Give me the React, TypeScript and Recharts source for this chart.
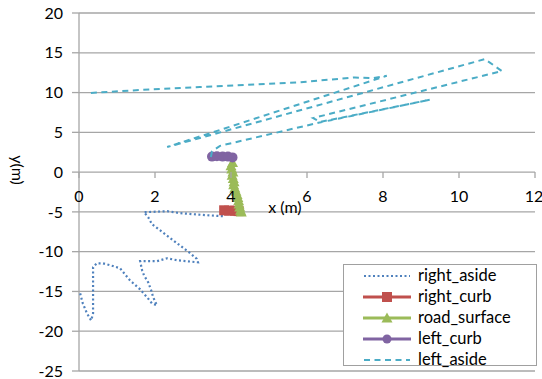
import React from 'react';
import { ScatterChart, Scatter, XAxis, YAxis, CartesianGrid, ReferenceDot } from 'recharts';

const xTicks = [0, 2, 4, 6, 8, 10, 12];
const yTicks = [-25, -20, -15, -10, -5, 0, 5, 10, 15, 20];

const rightAside: [number, number][] = [
  [0.03, -15.24], [0.1, -16.5], [0.21, -17.76], [0.32, -18.64], [0.37, -17.76], [0.37, -14.86],
  [0.37, -11.96], [0.47, -11.46], [0.63, -11.46], [0.89, -11.8], [1.08, -12.09], [1.34, -13.6],
  [1.61, -14.74], [1.82, -15.9], [1.92, -16.5], [2.05, -16.75], [1.95, -15.7], [1.9, -14.86],
  [1.82, -13.85], [1.71, -12.97], [1.66, -12.34], [1.61, -11.2], [2.05, -11.2], [2.32, -10.83],
  [2.58, -11.08], [2.84, -11.2], [3.13, -11.34], [3.1, -10.9], [2.9, -10.1], [2.58, -8.94],
  [2.13, -7.3], [1.92, -6.55], [1.82, -5.67], [1.71, -5.04], [2.32, -4.91], [2.66, -5.16],
  [3.0, -5.29], [3.37, -5.42], [3.79, -5.54],
];

const rightCurb: [number, number][] = [
  [3.82, -4.8], [3.95, -4.85], [4.1, -4.85], [4.2, -4.9],
];

const roadSurface: [number, number][] = [
  [4.04, 1.2], [4.0, 0.8], [4.02, 0.4], [4.05, 0.0], [4.03, -0.4], [4.06, -0.8], [4.08, -1.2],
  [4.07, -1.6], [4.1, -2.0], [4.13, -2.4], [4.16, -2.8], [4.18, -3.2], [4.2, -3.6], [4.21, -4.0],
  [4.23, -4.4], [4.25, -4.8], [4.27, -5.0],
];

const leftCurb: [number, number][] = [
  [3.5, 1.95], [3.63, 2.0], [3.78, 1.95], [3.92, 1.95], [4.04, 1.85],
];

const leftAside: [number, number][] = [
  [3.47, 1.9], [3.5, 2.6], [3.71, 3.3], [6.3, 6.2], [9.24, 9.1], [6.34, 6.3], [6.16, 6.8],
  [11.13, 12.7], [10.68, 14.2], [2.32, 3.15], [8.1, 12.1], [7.71, 11.8], [7.26, 11.9],
  [5.82, 11.3], [3.18, 10.7], [1.87, 10.4], [0.82, 10.1], [0.29, 9.95],
];

const seriesNames = ['right_aside', 'right_curb', 'road_surface', 'left_curb', 'left_aside'];
const colors = ['#4F81BD', '#C0504D', '#9BBB59', '#8064A2', '#4BACC6'];

const toPts = (a: [number, number][]) => a.map(([x, y]) => ({ x, y }));

const FONT = 'Lato, "Open Sans", sans-serif';
const GRID = '#A6A6A6';
const FS = 16;

const NoShape = () => <g />;
const SquareShape = (p: any) => <rect x={p.cx - 5} y={p.cy - 5} width={10} height={10} fill={colors[1]} />;
const TriShape = (p: any) => (
  <polygon points={`${p.cx},${p.cy - 5.5} ${p.cx + 5.5},${p.cy + 4.5} ${p.cx - 5.5},${p.cy + 4.5}`} fill={colors[2]} />
);
const CircShape = (p: any) => <circle cx={p.cx} cy={p.cy} r={5} fill={colors[3]} />;

const LegendSymbol = ({ i }: { i: number }) => {
  const c = colors[i];
  return (
    <svg width={48} height={12} style={{ display: 'block' }}>
      {i === 0 && <line x1={1} y1={6} x2={47} y2={6} stroke={c} strokeWidth={2} strokeDasharray="2 2.5" />}
      {i === 4 && <line x1={1} y1={6} x2={47} y2={6} stroke={c} strokeWidth={2} strokeDasharray="6 4.5" />}
      {(i === 1 || i === 2 || i === 3) && <line x1={0} y1={6} x2={48} y2={6} stroke={c} strokeWidth={3} />}
      {i === 1 && <rect x={19} y={1} width={10} height={10} fill={c} />}
      {i === 2 && <polygon points="24,0.5 29.5,10.5 18.5,10.5" fill={c} />}
      {i === 3 && <circle cx={24} cy={6} r={4.5} fill={c} />}
    </svg>
  );
};

export default function App() {
  return (
    <div style={{ position: 'absolute', left: 0, top: 0, width: 542, height: 379, background: '#fff', fontFamily: FONT }}>
      <ScatterChart width={542} height={379} margin={{ top: 13, right: 7, bottom: 8, left: 0 }}>
        <CartesianGrid vertical={false} stroke={GRID} strokeWidth={1.3} />
        <XAxis type="number" dataKey="x" domain={[0, 12]} ticks={xTicks} hide />
        <YAxis
          type="number"
          dataKey="y"
          domain={[-25, 20]}
          ticks={yTicks}
          interval={0}
          width={79}
          axisLine={{ stroke: GRID, strokeWidth: 1.3 }}
          tickLine={{ stroke: GRID, strokeWidth: 1.3 }}
          tickSize={7}
          tickMargin={9}
          tick={{ fill: '#000', fontSize: FS, fontFamily: FONT }}
          label={{
            content: () => (
              <text transform="translate(18,170) rotate(90)" textAnchor="middle" dominantBaseline="central"
                fontSize={FS} fontFamily={FONT} fill="#000">y(m)</text>
            ),
          }}
        />
        <Scatter name={seriesNames[0]} data={toPts(rightAside)} fill={colors[0]} lineType="joint"
          line={{ stroke: colors[0], strokeWidth: 2.2, strokeDasharray: '2 2.5' }} shape={NoShape} isAnimationActive={false} />
        <Scatter name={seriesNames[1]} data={toPts(rightCurb)} fill={colors[1]} lineType="joint"
          line={{ stroke: colors[1], strokeWidth: 3 }} shape={SquareShape} isAnimationActive={false} />
        <Scatter name={seriesNames[2]} data={toPts(roadSurface)} fill={colors[2]} lineType="joint"
          line={{ stroke: colors[2], strokeWidth: 3 }} shape={TriShape} isAnimationActive={false} />
        <Scatter name={seriesNames[3]} data={toPts(leftCurb)} fill={colors[3]} lineType="joint"
          line={{ stroke: colors[3], strokeWidth: 3 }} shape={CircShape} isAnimationActive={false} />
        <Scatter name={seriesNames[4]} data={toPts(leftAside)} fill={colors[4]} lineType="joint"
          line={{ stroke: colors[4], strokeWidth: 2, strokeDasharray: '6 4.5' }} shape={NoShape} isAnimationActive={false} />
        {xTicks.map((t) => (
          <ReferenceDot key={t} x={t} y={0} r={0}
            shape={(p: any) => (
              <g>
                <line x1={p.cx} y1={p.cy} x2={p.cx} y2={p.cy + 6} stroke={GRID} strokeWidth={1.3} />
                <text x={t === 12 ? p.cx - 1 : p.cx} y={p.cy + 30} textAnchor="middle" fontSize={FS} fontFamily={FONT} fill="#000">{t}</text>
              </g>
            )}
          />
        ))}
        <ReferenceDot x={5.42} y={0} r={0}
          shape={(p: any) => (
            <text x={p.cx} y={p.cy + 41} textAnchor="middle" fontSize={FS} fontFamily={FONT} fill="#000">x (m)</text>
          )}
        />
      </ScatterChart>
      <div style={{
        position: 'absolute', left: 343, top: 264, width: 194, height: 102, border: '1px solid #A0A0A0',
        background: '#fff', boxSizing: 'border-box', paddingTop: 0,
      }}>
        {seriesNames.map((n, i) => (
          <div key={n} style={{ display: 'flex', alignItems: 'center', height: 21, paddingLeft: 19 }}>
            <LegendSymbol i={i} />
            <span style={{ marginLeft: 7, fontSize: 16.5, color: '#000', lineHeight: '21px' }}>{n}</span>
          </div>
        ))}
      </div>
    </div>
  );
}
